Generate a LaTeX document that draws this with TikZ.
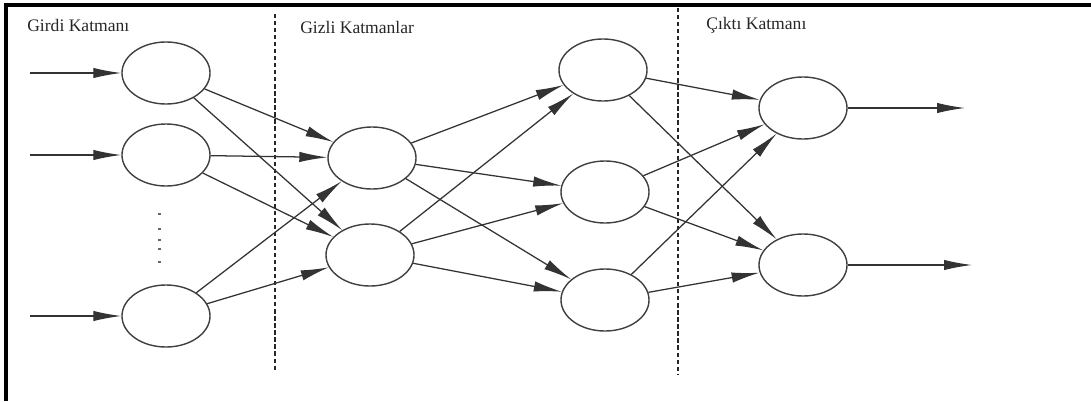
\documentclass[tikz,border=0pt]{standalone}
\usepackage{fontspec}
\setmainfont{Liberation Serif}
\usetikzlibrary{arrows.meta,shapes.geometric}

\begin{document}
\begin{tikzpicture}[x=0.025cm, y=-0.025cm,
  neuron/.style={ellipse, draw=black!75, line width=1pt, minimum width=2.2cm, minimum height=1.55cm, inner sep=0pt},
  link/.style={draw=black!80, line width=0.9pt, -{Latex[length=7mm,width=2.6mm]}},
  layerline/.style={draw=black!85, line width=0.9pt, dash pattern=on 3pt off 2pt},
  layername/.style={anchor=west, font=\fontsize{12.5}{14}\selectfont, text=black!85, inner sep=0pt}]
\useasboundingbox (0,0) rectangle (1091,401);

% frame
\draw [line width=2.6pt] (6,401) -- (6,5) -- (1091,5);

% layer names
\node [layername] (tin)  at (27,25)  {Girdi Katmanı};
\node [layername] (thid) at (300,27) {Gizli Katmanlar};
\node [layername] (tout) at (706,25) {Çıktı Katmanı};

% dashed separators
\draw [layerline] (275,14) -- (275,370);
\draw [layerline] (678,8) -- (678,375);

% neurons
\node [neuron] (in1) at (166,73)  {};
\node [neuron] (in2) at (166,155) {};
\node [neuron] (in3) at (166,316) {};

\node [neuron] (ha1) at (372,158) {};
\node [neuron] (ha2) at (370,255) {};

\node [neuron] (hb1) at (603,70)  {};
\node [neuron] (hb2) at (605,192) {};
\node [neuron] (hb3) at (605,300) {};

\node [neuron] (out1) at (803,108) {};
\node [neuron] (out2) at (803,265) {};

% dots between inputs
\foreach \y in {213,228,239,248,261}
  \fill [black!60] (158,\y) rectangle (161,\y+1.5);

% inputs and outputs
\coordinate (x1) at (30,73);
\coordinate (x2) at (30,155);
\coordinate (x3) at (30,316);
\coordinate (y1) at (965,108);
\coordinate (y2) at (972,265);
\draw [link] (x1) -- (in1);
\draw [link] (x2) -- (in2);
\draw [link] (x3) -- (in3);
\draw [link] (out1) -- (y1);
\draw [link] (out2) -- (y2);

% connections
\foreach \a in {in1,in2,in3}
  \foreach \b in {ha1,ha2}
    \draw [link] (\a) -- (\b);
\foreach \a in {ha1,ha2}
  \foreach \b in {hb1,hb2,hb3}
    \draw [link] (\a) -- (\b);
\foreach \a in {hb1,hb2,hb3}
  \foreach \b in {out1,out2}
    \draw [link] (\a) -- (\b);

\end{tikzpicture}
\end{document}
